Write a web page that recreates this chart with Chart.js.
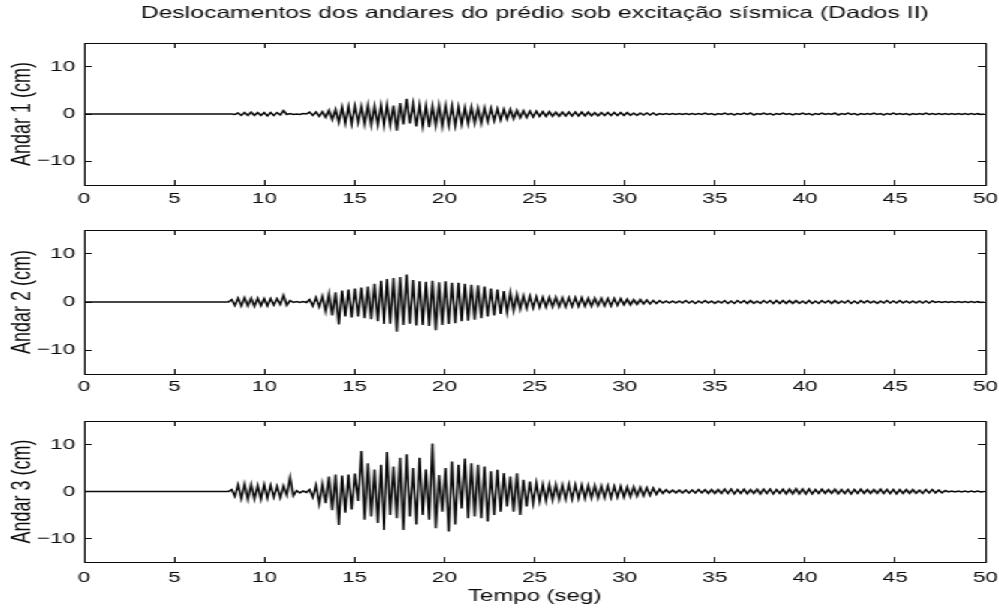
<!DOCTYPE html>
<html>
<head>
<meta charset="utf-8">
<title>Deslocamentos dos andares</title>
<script src="https://cdn.jsdelivr.net/npm/chart.js@4/dist/chart.umd.min.js"></script>
<style>
  body { margin: 0; background: #fff; }
  /* the scanned figure is stretched sideways, so the whole page is too */
  #page { position: relative; width: 666px; height: 608px; transform: scaleX(1.5); transform-origin: 0 0; }
  canvas { position: absolute; left: 0; }
</style>
</head>
<body>
<div id="page">
  <canvas id="andar1" width="666" height="210" style="top:0px"></canvas>
  <canvas id="andar2" width="666" height="190" style="top:210px"></canvas>
  <canvas id="andar3" width="666" height="208" style="top:400px"></canvas>
</div>
<script>
// texts
const titleText = 'Deslocamentos dos andares do prédio sob excitação sísmica (Dados II)';
const xLabel = 'Tempo (seg)';
const yLabels = ['Andar 1 (cm)', 'Andar 2 (cm)', 'Andar 3 (cm)'];

// axes
const xTicks = [0, 5, 10, 15, 20, 25, 30, 35, 40, 45, 50];
const yTicks = [-10, 0, 10];
const tMin = 0, tMax = 50;
const yMin = -15, yMax = 15;

// record: flat from t = 0, then one peak/trough every 0.18 s from 8 s on
const quietStart = 0;
const sampleStart = 8.0;
const sampleStep = 0.18;

// Andar 1 (cm), 10 samples per row (1.8 s)
const andar1 = [
  0, 0, -0.1, 0.2, -0.3, 0.3, -0.3, 0.4, -0.3, 0.3,
  -0.3, 0.3, -0.4, 0.3, -0.3, 0.3, -0.2, 0.7, -0.1, 0.1,
  -0.1, 0, -0.1, 0.1, 0, 0.4, -0.3, 0.4, -0.5, 0.5,
  -0.7, 0.8, -1.2, 1.0, -1.8, 1.5, -2.0, 1.6, -2.1, 1.7,
  -1.8, 1.6, -2.2, 1.9, -2.4, 1.7, -2.3, 1.9, -2.5, 2.0,
  -2.4, 1.8, -3.5, 2.3, -2.2, 3.2, -2.0, 2.2, -2.6, 1.9,
  -2.6, 1.8, -2.8, 1.7, -2.5, 1.9, -2.6, 1.8, -2.4, 1.7,
  -2.5, 1.5, -2.2, 1.4, -2.1, 1.5, -2.0, 1.3, -2.0, 1.3,
  -1.6, 1.2, -1.4, 1.1, -1.3, 1.0, -1.1, 1.0, -1.0, 0.8,
  -0.8, 0.7, -0.7, 0.6, -0.6, 0.6, -0.5, 0.5, -0.5, 0.5,
  -0.5, 0.4, -0.5, 0.4, -0.4, 0.4, -0.4, 0.4, -0.4, 0.4,
  -0.4, 0.4, -0.4, 0.3, -0.4, 0.3, -0.3, 0.3, -0.3, 0.3,
  -0.3, 0.3, -0.3, 0.3, -0.3, 0.2, -0.3, 0.2, -0.2, 0.2,
  -0.2, 0.2, -0.2, 0.1, -0.1, 0.1, -0.1, 0.1, -0.1, 0.1,
  -0.1, 0.1, -0.1, 0.1, -0.1, 0.1, -0.1, 0.2, -0.1, 0.1,
  -0.2, 0.1, -0.1, 0.2, -0.1, 0.1, -0.2, 0.1, -0.1, 0.2,
  -0.1, 0.2, -0.2, 0.1, -0.1, 0.2, -0.1, 0.1, -0.2, 0.1,
  -0.1, 0.2, -0.1, 0.1, -0.2, 0.1, -0.1, 0.2, -0.1, 0.1,
  -0.2, 0.1, -0.1, 0.2, -0.1, 0.1, -0.1, 0.2, -0.2, 0.1,
  -0.1, 0.2, -0.1, 0.1, -0.2, 0.1, -0.1, 0.1, -0.1, 0.2,
  -0.1, 0.1, -0.2, 0.1, -0.1, 0.2, -0.1, 0.1, -0.1, 0.1,
  -0.2, 0.1, -0.1, 0.1, -0.1, 0.2, -0.1, 0.1, -0.1, 0.1,
  -0.1, 0.1, -0.1, 0.1, -0.1, 0.1, -0.1, 0.1, -0.1, 0.1,
  -0.1, 0.1, -0.1, 0
];

// Andar 2 (cm)
const andar2 = [
  0, 0.5, -0.7, 0.8, -0.8, 0.9, -0.8, 0.8, -0.9, 0.8,
  -0.8, 0.7, -0.8, 0.7, -0.6, 0.7, -0.5, 1.4, -0.7, 0.3,
  -0.1, 0.1, -0.1, 0.1, -0.1, 0.5, -0.8, 0.9, -1.0, 1.2,
  -2.0, 1.7, -2.8, 2.0, -4.7, 2.4, -3.0, 2.6, -3.2, 2.8,
  -3.0, 3.0, -3.4, 3.2, -3.6, 3.8, -4.0, 4.4, -4.6, 4.8,
  -4.5, 5.0, -6.2, 5.2, -4.8, 5.7, -4.5, 4.6, -4.9, 4.3,
  -4.8, 4.2, -5.0, 4.4, -5.9, 4.1, -4.8, 4.3, -4.6, 4.0,
  -4.4, 4.0, -4.0, 3.8, -3.9, 3.6, -3.7, 3.5, -3.4, 3.2,
  -3.0, 2.8, -2.8, 2.6, -2.5, 2.3, -2.2, 2.0, -1.8, 1.6,
  -1.5, 1.3, -1.3, 1.2, -1.2, 1.1, -1.1, 1.0, -1.1, 1.0,
  -1.0, 1.0, -1.0, 0.9, -1.0, 0.9, -0.9, 0.9, -0.9, 0.9,
  -0.9, 0.8, -0.9, 0.8, -0.8, 0.8, -0.8, 0.7, -0.8, 0.7,
  -0.7, 0.7, -0.6, 0.6, -0.6, 0.5, -0.5, 0.5, -0.4, 0.4,
  -0.4, 0.3, -0.3, 0.3, -0.2, 0.2, -0.2, 0.2, -0.2, 0.2,
  -0.2, 0.3, -0.2, 0.2, -0.3, 0.2, -0.2, 0.3, -0.2, 0.2,
  -0.3, 0.2, -0.2, 0.3, -0.3, 0.2, -0.3, 0.3, -0.2, 0.3,
  -0.3, 0.3, -0.3, 0.2, -0.3, 0.3, -0.2, 0.3, -0.3, 0.3,
  -0.3, 0.3, -0.3, 0.3, -0.3, 0.3, -0.3, 0.2, -0.3, 0.3,
  -0.3, 0.2, -0.3, 0.3, -0.2, 0.3, -0.3, 0.3, -0.3, 0.2,
  -0.2, 0.3, -0.3, 0.2, -0.3, 0.3, -0.2, 0.3, -0.2, 0.2,
  -0.3, 0.2, -0.2, 0.3, -0.2, 0.2, -0.2, 0.3, -0.2, 0.2,
  -0.2, 0.2, -0.2, 0.2, -0.2, 0.2, -0.2, 0.2, -0.1, 0.1,
  -0.1, 0.1, -0.1, 0.1, -0.1, 0.1, -0.1, 0.1, -0.1, 0.1,
  -0.1, 0.1, -0.1, 0
];

// Andar 3 (cm)
const andar3 = [
  0, 0.4, -1.0, 1.4, -1.5, 1.6, -1.7, 1.5, -1.6, 1.3,
  -1.7, 1.5, -1.4, 1.3, -1.2, 1.1, -1.3, 1.2, -0.8, 3.0,
  -0.9, 0.2, -0.3, 0.1, -0.2, 0.4, -1.2, 1.3, -2.6, 1.6,
  -2.5, 3.2, -4.0, 3.6, -7.1, 3.4, -4.5, 3.6, -3.8, 3.8,
  -2.0, 8.6, -6.0, 6.0, -5.3, 4.7, -6.7, 5.7, -8.2, 8.4,
  -5.0, 5.3, -5.7, 7.2, -8.2, 7.9, -5.3, 5.0, -7.0, 7.2,
  -5.0, 4.7, -6.0, 10.2, -7.8, 3.5, -4.3, 5.0, -8.5, 6.4,
  -7.0, 5.7, -3.6, 7.0, -5.7, 6.0, -5.3, 5.7, -5.7, 5.3,
  -6.4, 4.3, -5.0, 4.6, -4.3, 3.9, -3.2, 3.2, -4.3, 3.9,
  -5.0, 2.5, -3.2, 2.1, -2.5, 1.8, -2.1, 1.5, -2.0, 1.5,
  -1.8, 1.5, -1.7, 1.4, -1.6, 1.5, -1.6, 1.4, -1.5, 1.4,
  -1.5, 1.3, -1.4, 1.3, -1.4, 1.2, -1.3, 1.2, -1.3, 1.1,
  -1.2, 1.1, -1.2, 1.0, -1.1, 1.0, -1.0, 0.9, -0.9, 0.8,
  -0.8, 0.7, -0.6, 0.5, -0.4, 0.4, -0.3, 0.3, -0.3, 0.3,
  -0.3, 0.3, -0.3, 0.3, -0.3, 0.4, -0.3, 0.4, -0.4, 0.4,
  -0.4, 0.4, -0.4, 0.5, -0.4, 0.5, -0.5, 0.4, -0.4, 0.5,
  -0.5, 0.4, -0.4, 0.5, -0.5, 0.5, -0.4, 0.5, -0.5, 0.4,
  -0.4, 0.5, -0.5, 0.5, -0.5, 0.6, -0.5, 0.5, -0.5, 0.5,
  -0.5, 0.4, -0.4, 0.5, -0.4, 0.4, -0.4, 0.5, -0.5, 0.4,
  -0.4, 0.4, -0.5, 0.4, -0.4, 0.5, -0.4, 0.4, -0.4, 0.4,
  -0.4, 0.5, -0.4, 0.4, -0.4, 0.4, -0.5, 0.4, -0.4, 0.4,
  -0.4, 0.4, -0.4, 0.3, -0.4, 0.4, -0.3, 0.4, -0.3, 0.3,
  -0.3, 0.2, -0.1, 0.1, -0.1, 0.1, -0.1, 0.1, -0.1, 0.1,
  -0.1, 0.1, -0.1, 0
];

const FONT = '"Liberation Sans", Arial, Helvetica, sans-serif';
const INK = '#0a0a0a';

function toPoints(values){
    const pts = [{x: quietStart, y: 0}];
    values.forEach((v, i) => pts.push({x: +(sampleStart + i*sampleStep).toFixed(2), y: v}));
    return pts;
}

function fmtTick(v){
    return v < 0 ? '\u2212' + Math.abs(v) : String(v);
}

// box side with inward tick marks and no labels
function sideAxis(position, min, max, ticks){
    const horiz = position === 'top';
    return {
        type: 'linear', position, min, max,
        afterBuildTicks: s => { s.ticks = ticks.map(v => ({value: v})); },
        ticks: {display: false},
        grid: {drawOnChartArea: false, tickLength: -5, color: INK},
        border: {display: true, color: INK, width: 1},
        afterFit: s => { if(horiz) s.height = 0; else s.width = 0; }
    };
}

function makeChart(id, values, yLabel, o){
    const tickFont = {family: FONT, size: 15};
    return new Chart(document.getElementById(id), {
        type: 'line',
        data: {datasets: [{data: toPoints(values), borderColor: INK, borderWidth: 1.5, pointRadius: 0, tension: 0, fill: false}]},
        options: {
            responsive: false, animation: false, events: [],
            layout: {padding: {top: o.padTop, right: 9, bottom: 0, left: 0}},
            plugins: {
                legend: {display: false},
                tooltip: {enabled: false},
                title: o.title ? {display: true, text: titleText, fullSize: false, color: INK,
                    font: {family: FONT, size: 16.5, weight: 'normal'}, padding: {top: 4, bottom: 19.2}} : {display: false}
            },
            scales: {
                x: {
                    type: 'linear', position: 'bottom', min: tMin, max: tMax,
                    afterBuildTicks: s => { s.ticks = xTicks.map(v => ({value: v})); },
                    ticks: {font: tickFont, color: INK, padding: o.xPad, maxRotation: 0, autoSkip: false, callback: fmtTick},
                    grid: {drawOnChartArea: false, tickLength: -5, color: INK},
                    border: {display: true, color: INK, width: 1},
                    title: o.xTitle ? {display: true, text: xLabel, font: {family: FONT, size: 16}, color: INK, padding: {top: 0, bottom: 1.4}} : {display: false},
                    // labels may hang past the box ends, like the original
                    afterFit: s => { s.height = o.xHeight; s.paddingLeft = 0; s.paddingRight = 0; }
                },
                x2: sideAxis('top', tMin, tMax, xTicks),
                y: {
                    type: 'linear', position: 'left', min: yMin, max: yMax,
                    afterBuildTicks: s => { s.ticks = yTicks.map(v => ({value: v})); },
                    ticks: {font: tickFont, color: INK, padding: 11, callback: fmtTick},
                    grid: {drawOnChartArea: false, tickLength: -5, color: INK},
                    border: {display: true, color: INK, width: 1},
                    title: {display: true, text: yLabel, font: {family: FONT, size: 18}, color: INK, padding: {top: 4, bottom: 0}},
                    afterFit: s => { s.width = 56; s.paddingTop = 0; s.paddingBottom = 0; }
                },
                y2: sideAxis('right', yMin, yMax, yTicks)
            }
        }
    });
}

makeChart('andar1', andar1, yLabels[0], {title: true, padTop: 0, xHeight: 25, xPad: 10});
makeChart('andar2', andar2, yLabels[1], {padTop: 20, xHeight: 26, xPad: 9});
makeChart('andar3', andar3, yLabels[2], {padTop: 21, xHeight: 46, xPad: 12, xTitle: true});
</script>
</body>
</html>
